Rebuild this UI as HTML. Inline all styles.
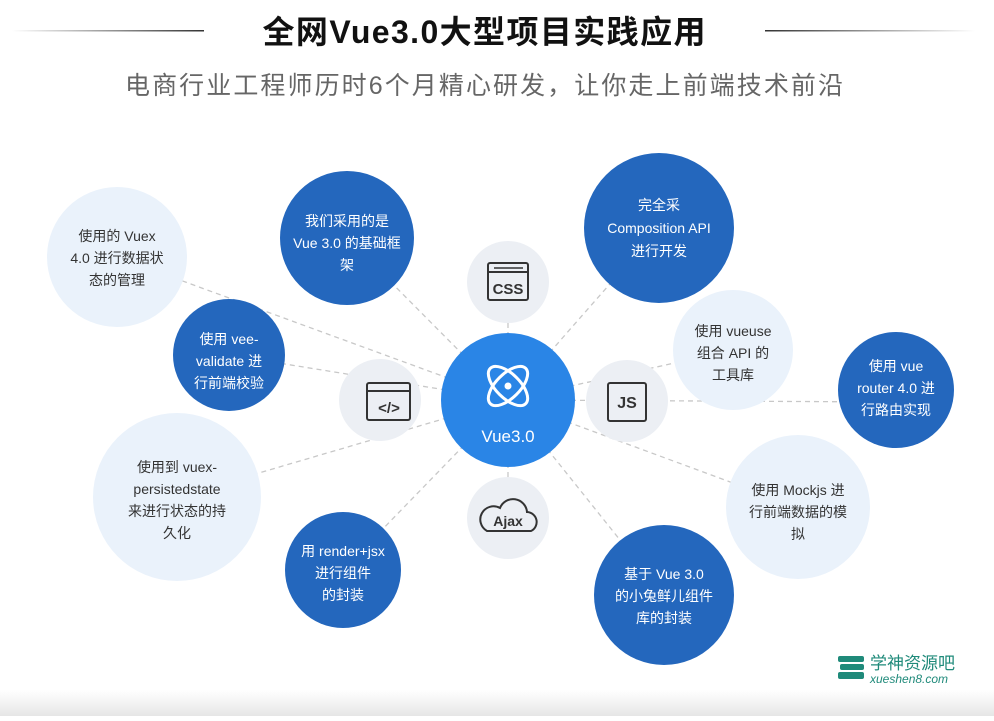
<!DOCTYPE html>
<html><head><meta charset="utf-8"><style>
body{margin:0;width:994px;height:716px;overflow:hidden;background:#fff;font-family:"Liberation Sans","Noto Sans CJK SC",sans-serif}
</style></head><body>
<svg width="994" height="716" viewBox="0 0 994 716" xmlns="http://www.w3.org/2000/svg" font-family="Liberation Sans, Noto Sans CJK SC, sans-serif">
<defs>
<linearGradient id="bot" x1="0" y1="0" x2="0" y2="1"><stop offset="0" stop-color="#fff"/><stop offset="1" stop-color="#e6e6e6"/></linearGradient>
<linearGradient id="ll" x1="0" x2="1"><stop offset="0" stop-color="#fff"/><stop offset="1" stop-color="#333"/></linearGradient>
<linearGradient id="rl" x1="0" x2="1"><stop offset="0" stop-color="#333"/><stop offset="1" stop-color="#fff"/></linearGradient>
</defs>
<rect x="0" y="690" width="994" height="26" fill="url(#bot)"/>
<rect x="12" y="30" width="192" height="1.5" fill="url(#ll)"/>
<rect x="765" y="30" width="210" height="1.5" fill="url(#rl)"/>
<text x="484" y="43" text-anchor="middle" font-size="32" font-weight="bold" fill="#111" textLength="443">全网Vue3.0大型项目实践应用</text>
<text x="484" y="94" text-anchor="middle" font-size="25" fill="#666" textLength="718">电商行业工程师历时6个月精心研发，让你走上前端技术前沿</text>
<g stroke="#c8c8c8" stroke-width="1.3" stroke-dasharray="5,4" fill="none">
<line x1="508" y1="400" x2="347" y2="238"/>
<line x1="508" y1="400" x2="659" y2="228"/>
<line x1="508" y1="400" x2="117" y2="257"/>
<line x1="508" y1="400" x2="229" y2="355"/>
<line x1="508" y1="400" x2="733" y2="350"/>
<line x1="508" y1="400" x2="896" y2="402"/>
<line x1="508" y1="400" x2="177" y2="497"/>
<line x1="508" y1="400" x2="343" y2="570"/>
<line x1="508" y1="400" x2="664" y2="595"/>
<line x1="508" y1="400" x2="798" y2="507"/>
<line x1="508" y1="400" x2="508" y2="282"/>
<line x1="508" y1="400" x2="508" y2="518"/>
</g>
<g fill="#eaf2fb">
<circle cx="117" cy="257" r="70"/>
<circle cx="733" cy="350" r="60"/>
<circle cx="177" cy="497" r="84"/>
<circle cx="798" cy="507" r="72"/>
</g>
<g fill="#eceff4">
<circle cx="508" cy="282" r="41"/>
<circle cx="380" cy="400" r="41"/>
<circle cx="627" cy="401" r="41"/>
<circle cx="508" cy="518" r="41"/>
</g>
<g fill="#2467bd">
<circle cx="347" cy="238" r="67"/>
<circle cx="659" cy="228" r="75"/>
<circle cx="229" cy="355" r="56"/>
<circle cx="896" cy="390" r="58"/>
<circle cx="343" cy="570" r="58"/>
<circle cx="664" cy="595" r="70"/>
</g>
<circle cx="508" cy="400" r="67" fill="#2a85e6"/>
<!-- atom -->
<g stroke="#fff" stroke-width="3" fill="none">
<ellipse cx="508" cy="386" rx="25" ry="12" transform="rotate(45 508 386)"/>
<ellipse cx="508" cy="386" rx="25" ry="12" transform="rotate(-45 508 386)"/>
</g>
<circle cx="508" cy="386" r="3.5" fill="#fff"/>
<text x="508" y="442" text-anchor="middle" font-size="17" fill="#fff">Vue3.0</text>
<!-- css icon -->
<g stroke="#333" stroke-width="2" fill="none">
<rect x="488" y="263" width="40" height="37" rx="2"/>
<line x1="488" y1="272" x2="528" y2="272"/>
<rect x="367" y="383" width="43" height="37" rx="2"/>
<line x1="367" y1="391" x2="410" y2="391"/>
<rect x="608" y="383" width="38" height="38" rx="2"/>
<path d="M487 531 h44 a10 10 0 0 0 -4 -19 a14 14 0 0 0 -27 -4 a10 10 0 0 0 -13 23 z"/>
</g>
<line x1="494" y1="268" x2="523" y2="268" stroke="#333" stroke-width="1.5"/>
<text x="508" y="294" text-anchor="middle" font-size="15" font-weight="bold" fill="#333">CSS</text>
<text x="389" y="413" text-anchor="middle" font-size="15" font-weight="bold" fill="#333">&lt;/&gt;</text>
<text x="627" y="408" text-anchor="middle" font-size="16" font-weight="bold" fill="#333">JS</text>
<text x="508" y="526" text-anchor="middle" font-size="14" font-weight="bold" fill="#333">Ajax</text>
<g font-size="14" fill="#fff" text-anchor="middle">
<text x="347" y="226">我们采用的是</text><text x="347" y="248">Vue 3.0 的基础框</text><text x="347" y="270">架</text>
<text x="659" y="210">完全采</text><text x="659" y="233">Composition API</text><text x="659" y="256">进行开发</text>
<text x="229" y="344">使用 vee-</text><text x="229" y="366">validate 进</text><text x="229" y="388">行前端校验</text>
<text x="896" y="371">使用 vue</text><text x="896" y="393">router 4.0 进</text><text x="896" y="415">行路由实现</text>
<text x="343" y="556">用 render+jsx</text><text x="343" y="578">进行组件</text><text x="343" y="600">的封装</text>
<text x="664" y="579">基于 Vue 3.0</text><text x="664" y="601">的小兔鲜儿组件</text><text x="664" y="623">库的封装</text>
</g>
<g font-size="14" fill="#333" text-anchor="middle">
<text x="117" y="241">使用的 Vuex</text><text x="117" y="263">4.0 进行数据状</text><text x="117" y="285">态的管理</text>
<text x="733" y="336">使用 vueuse</text><text x="733" y="358">组合 API 的</text><text x="733" y="380">工具库</text>
<text x="177" y="472">使用到 vuex-</text><text x="177" y="494">persistedstate</text><text x="177" y="516">来进行状态的持</text><text x="177" y="538">久化</text>
<text x="798" y="495">使用 Mockjs 进</text><text x="798" y="517">行前端数据的模</text><text x="798" y="539">拟</text>
</g>
<!-- logo -->
<g fill="#1f8a7a">
<rect x="838" y="656" width="26" height="6" rx="2"/>
<rect x="840" y="664" width="24" height="6" rx="2"/>
<rect x="838" y="672" width="26" height="7" rx="2"/>
</g>
<text x="870" y="669" font-size="17" fill="#1f8a7a">学神资源吧</text>
<text x="870" y="683" font-size="12" font-style="italic" fill="#1f8a7a">xueshen8.com</text>
</svg>
</body></html>
